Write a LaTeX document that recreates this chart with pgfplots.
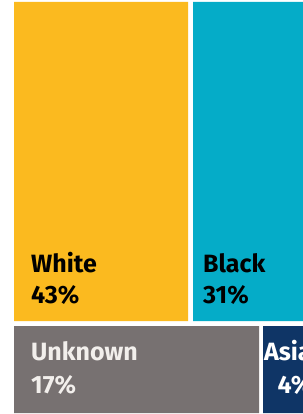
\documentclass[border=0pt]{standalone}
\usepackage{pgfplots}
\pgfplotsset{compat=1.18}
\usepackage{fontspec}
\setmainfont{Fira Sans}
\definecolor{cWhite}{HTML}{FBBA1F}
\definecolor{cBlack}{HTML}{05ACC8}
\definecolor{cUnk}{HTML}{777171}
\definecolor{cAsian}{HTML}{0F3566}
\definecolor{cLight}{HTML}{F2EFEC}
\begin{document}
\begin{tikzpicture}
\begin{axis}[
  width=303bp, height=414bp, scale only axis,
  xmin=0, xmax=303, ymin=0, ymax=414, y dir=reverse,
  hide axis, clip=true,
]
% White 43%
\addplot[fill=cWhite, draw=none] coordinates {(14,2) (188,2) (188,321) (14,321) (14,2)};
% Black 31%
\addplot[fill=cBlack, draw=none] coordinates {(193,2) (330,2) (330,321) (193,321) (193,2)};
% Unknown 17%
\addplot[fill=cUnk, draw=none] coordinates {(14,326) (259,326) (259,413) (14,413) (14,326)};
% Asian 4%
\addplot[fill=cAsian, draw=none] coordinates {(263,326) (328,326) (328,413) (263,413) (263,326)};
\begin{scope}[every node/.style={font=\fontsize{25bp}{30bp}\selectfont\bfseries, inner sep=0pt}]
\node[anchor=base west, text=black] at (axis cs:31,272) {White};
\node[anchor=base west, text=black] at (axis cs:31,303) {43\%};
\node[anchor=base west, text=black] at (axis cs:203,272) {Black};
\node[anchor=base west, text=black] at (axis cs:203,303) {31\%};
\node[anchor=base west, text=cLight] at (axis cs:31,360) {Unknown};
\node[anchor=base west, text=cLight] at (axis cs:31,393) {17\%};
\node[anchor=base, text=white] at (axis cs:295,360) {Asian};
\node[anchor=base, text=white] at (axis cs:295,393) {4\%};
\end{scope}
\end{axis}
\path[use as bounding box] (current axis.south west) rectangle (current axis.north east);
\end{tikzpicture}
\end{document}
